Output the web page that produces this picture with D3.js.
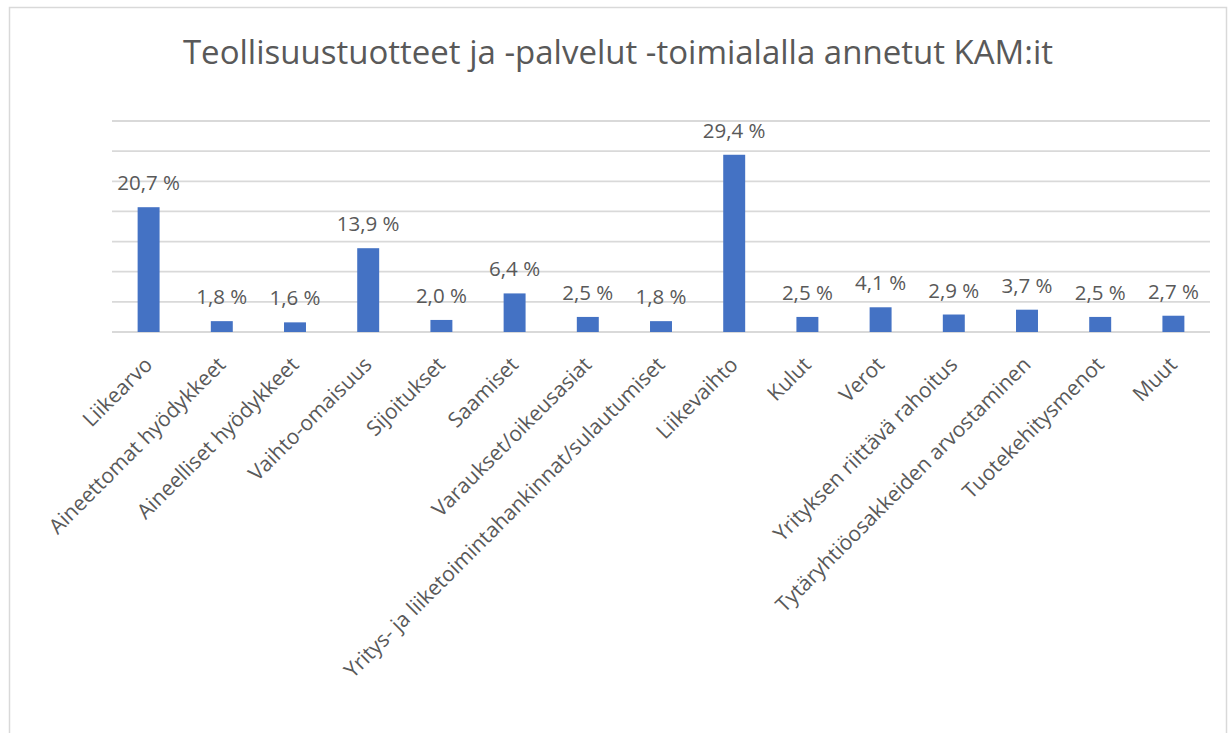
<!DOCTYPE html>
<html>
<head>
<meta charset="utf-8">
<script src="https://d3js.org/d3.v7.min.js"></script>
<style>
	body { margin: 0; background: #fff; }
	svg { display: block; }
	text { font-family: "Open Sans", sans-serif; fill: #595959; }
</style>
</head>
<body>
<div id="chart"></div>
<script>
	// data
	var categories = [
		"Liikearvo",
		"Aineettomat hyödykkeet",
		"Aineelliset hyödykkeet",
		"Vaihto-omaisuus",
		"Sijoitukset",
		"Saamiset",
		"Varaukset/oikeusasiat",
		"Yritys- ja liiketoimintahankinnat/sulautumiset",
		"Liikevaihto",
		"Kulut",
		"Verot",
		"Yrityksen riittävä rahoitus",
		"Tytäryhtiöosakkeiden arvostaminen",
		"Tuotekehitysmenot",
		"Muut"
	];
	var values = [20.7, 1.8, 1.6, 13.9, 2.0, 6.4, 2.5, 1.8, 29.4, 2.5, 4.1, 2.9, 3.7, 2.5, 2.7];
	var gridTicks = [0, 5, 10, 15, 20, 25, 30, 35];
	var title = "Teollisuustuotteet ja -palvelut -toimialalla annetut KAM:it";

	var width = 1232, height = 733;

	var svg = d3.select("#chart").append("svg")
		.attr("width", width)
		.attr("height", height);

	// chart area border
	svg.append("rect")
		.attr("x", 9.5)
		.attr("y", 7.5)
		.attr("width", 1217)
		.attr("height", 740)
		.attr("fill", "none")
		.attr("stroke", "#d9d9d9")
		.attr("stroke-width", 1.5);

	svg.append("text")
		.attr("x", 618)
		.attr("y", 64)
		.attr("text-anchor", "middle")
		.style("font-size", "33px")
		.text(title);

	var x = d3.scaleBand()
		.domain(categories)
		.range([112, 1210])
		.paddingInner(0.7)
		.paddingOuter(0.35);

	var y = d3.scaleLinear()
		.domain([0, 35])
		.range([332, 121]);

	// gridlines
	svg.append("g").selectAll("line")
		.data(gridTicks)
		.enter().append("line")
		.attr("x1", 112)
		.attr("x2", 1210)
		.attr("y1", function(d) { return y(d); })
		.attr("y2", function(d) { return y(d); })
		.attr("stroke", "#d9d9d9")
		.attr("stroke-width", 1.8);

	var rows = categories.map(function(c, i) { return { name: c, value: values[i] }; });

	svg.append("g").selectAll("rect")
		.data(rows)
		.enter().append("rect")
		.attr("x", function(d) { return x(d.name); })
		.attr("y", function(d) { return y(d.value); })
		.attr("width", x.bandwidth())
		.attr("height", function(d) { return y(0) - y(d.value); })
		.attr("fill", "#4472c4");

	var fmt = d3.format(".1f");

	// value labels above bars
	svg.append("g").selectAll("text")
		.data(rows)
		.enter().append("text")
		.attr("x", function(d) { return x(d.name) + x.bandwidth() / 2; })
		.attr("y", function(d) { return y(d.value) - 17; })
		.attr("text-anchor", "middle")
		.style("font-size", "20.5px")
		.text(function(d) { return fmt(d.value).replace(".", ",") + "\u00a0%"; });

	// rotated category labels
	svg.append("g").selectAll("text")
		.data(rows)
		.enter().append("text")
		.attr("transform", function(d) {
			var cx = x(d.name) + x.bandwidth() / 2 + 5;
			return "translate(" + cx + ",366) rotate(-45)";
		})
		.attr("text-anchor", "end")
		.style("font-size", "21px")
		.text(function(d) { return d.name; });
</script>
</body>
</html>
